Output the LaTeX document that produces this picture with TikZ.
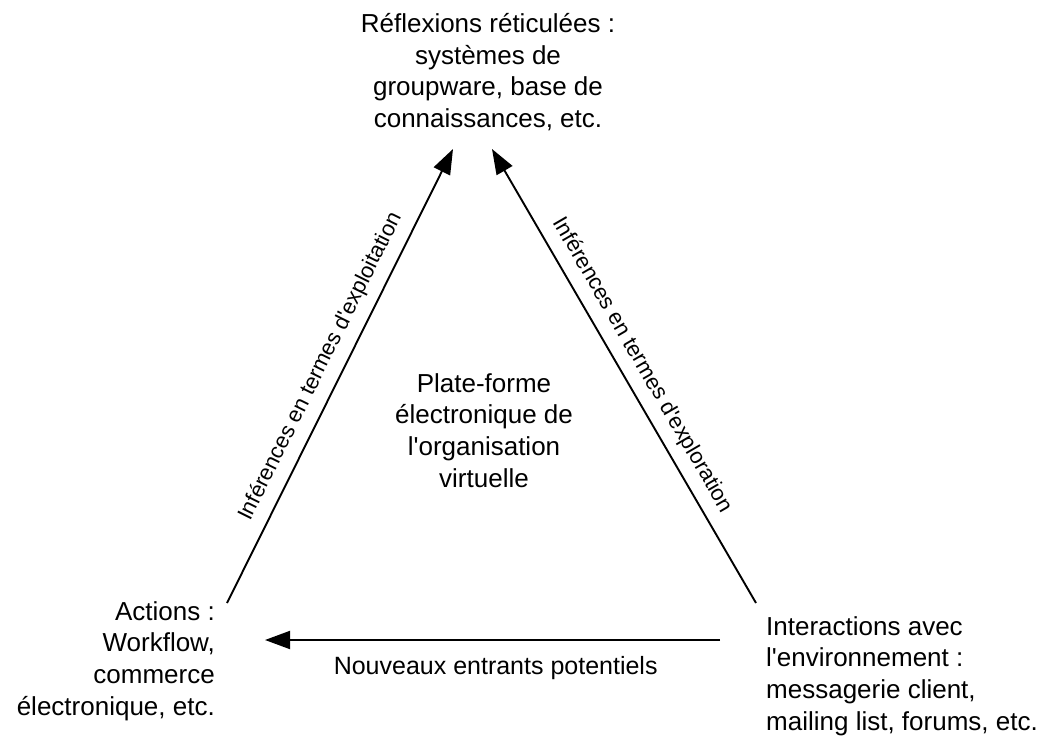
\documentclass[tikz,border=0pt]{standalone}
\usepackage{fontspec}
\setmainfont{Liberation Sans}
\usetikzlibrary{arrows.meta}
% straight typewriter apostrophe
\newcommand{\apos}{\textquotesingle}

\begin{document}
\begin{tikzpicture}[x=1pt, y=-1pt,
  corner/.style={inner sep=0pt, font=\fontsize{26}{31.8}\selectfont},
  flow/.style={line width=1.9pt, -{Triangle[length=25pt, width=18pt]}},
  edgelabel/.style={inner sep=0pt, font=\fontsize{22}{26}\selectfont},
  baselabel/.style={inner sep=0pt, font=\fontsize{25}{30}\selectfont}]
  \useasboundingbox (0,0) rectangle (1044,738);

  % the three poles and the platform in the middle
  \node[corner, align=center, anchor=north] (reflexions) at (488,13)
    {Réflexions réticulées :\\systèmes de\\groupware, base de\\connaissances, etc.};
  \node[corner, align=center, anchor=north] (plateforme) at (484,373)
    {Plate-forme\\électronique de\\l\apos organisation\\virtuelle};
  \node[corner, align=right, anchor=north east] (actions) at (215,601)
    {Actions :\\Workflow,\\commerce\\électronique, etc.};
  \node[corner, align=left, anchor=north west] (interactions) at (766,616)
    {Interactions avec\\l\apos environnement :\\messagerie client,\\mailing list, forums, etc.};

  % arrow ends next to the poles
  \coordinate (actionsUp) at (227,603);
  \coordinate (reflexionsL) at (453,149);
  \coordinate (reflexionsR) at (492,149);
  \coordinate (interactionsUp) at (756,603);
  \coordinate (interactionsW) at (720,640);
  \coordinate (actionsE) at (265,640);

  \draw[flow] (actionsUp) -- (reflexionsL)
    node[edgelabel, pos=0.5, sloped, above=10pt] (exploitation) {Inférences en termes d\apos exploitation};
  \draw[flow] (interactionsUp) -- (reflexionsR)
    node[edgelabel, pos=0.5, sloped, above=10pt] (exploration) {Inférences en termes d\apos exploration};
  \draw[flow] (interactionsW) -- (actionsE)
    node[baselabel, pos=0.493, below=15pt] (entrants) {Nouveaux entrants potentiels};
\end{tikzpicture}
\end{document}
